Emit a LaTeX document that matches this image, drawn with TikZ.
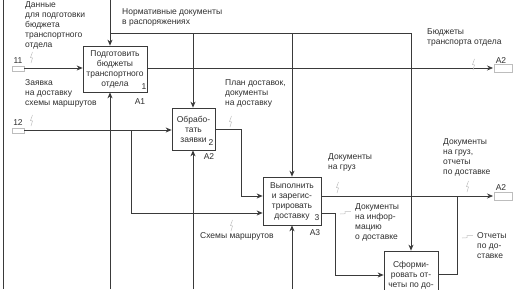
\documentclass[tikz,border=0pt]{standalone}
\usepackage{fontspec}
\setmainfont{Liberation Sans}
\definecolor{LineGray}{HTML}{3A3A3A}
\definecolor{TextGray}{HTML}{2E2E2E}
\definecolor{SquigGray}{HTML}{BDBDBD}
\usetikzlibrary{arrows.meta, positioning}
\tikzset{
  activity/.style={
    rectangle, draw=LineGray, line width=0.7pt, fill=white,
    align=center, inner sep=1pt, text=TextGray,
    font=\fontsize{8.5}{10}\selectfont
  },
  label text/.style={anchor=north west, align=left, inner sep=0pt, text=TextGray,
    font=\fontsize{8.5}{10}\selectfont},
  tag/.style={inner sep=0pt, text=TextGray, font=\fontsize{8.5}{10}\selectfont},
  arrow/.style={-{Stealth[length=6pt, width=5pt]}, line width=0.7pt, draw=LineGray},
  link/.style={line width=0.7pt, draw=LineGray},
  squiggle/.style={line width=0.5pt, draw=SquigGray},
  tunnel/.style={draw=SquigGray, line width=0.5pt},
  squig/.pic={\draw[squiggle] (0,0) -- (1.5,-5) -- (-0.5,-5.5) -- (1.5,-11);},
}

\begin{document}
\begin{tikzpicture}[x=1pt, y=-1pt]
  \clip (0,0) rectangle (516,289);

  % activities
  \node[activity, minimum width=64pt, minimum height=46pt] (A1) at (115,69)
    {Подготовить\\бюджеты\\транспортного\\отдела};
  \node[activity, minimum width=43pt, minimum height=42pt] (A2) at (193.5,129)
    {Обрабо-\\тать\\заявки};
  \node[activity, minimum width=58pt, minimum height=48pt] (A3) at (292,201)
    {Выполнить\\и зарегис-\\трировать\\доставку};
  \node[activity, minimum width=54pt, minimum height=56pt, text depth=0pt] (A4) at (411,279)
    {Сформи-\\ровать от-\\четы по до-\\ставкам};

  \node[tag] (n1) at (144,87) {1};
  \node[tag] (n2) at (211,143) {2};
  \node[tag] (n3) at (317,218) {3};
  \node[tag] (a1) at (140,102) {A1};
  \node[tag] (a2) at (209,157) {A2};
  \node[tag] (a3) at (315,233) {A3};

  % frame edge
  \draw[link] (3,0) -- (3,289);

  % free ends
  \coordinate (i11) at (24,68);
  \coordinate (i12) at (24,130);
  \coordinate (ctop) at (110,0);
  \coordinate (cbus) at (110,33);
  \coordinate (o1) at (493,68);
  \coordinate (o3) at (493,196);
  \coordinate (m1) at (110,289);
  \coordinate (m2) at (193,289);
  \coordinate (m3) at (292,289);

  % tunnels
  \draw[tunnel] (12,66) rectangle (24,71);
  \draw[tunnel] (12,128) rectangle (24,133);
  \draw[tunnel] (494,64) rectangle (512,72);
  \draw[tunnel] (494,192) rectangle (512,200);

  % inputs
  \draw[arrow] (i11) -- (i11 -| A1.west);
  \draw[arrow] (i12) -- (i12 -| A2.west);
  \draw[arrow] (131,130) -- (131,213) -- (A3.west |- 0,213);
  \draw[arrow] (A2.east |- 0,129) -- (241,129) -- (241,196) -- (A3.west |- 0,196);
  \draw[arrow] (A3.east |- 0,213) -- (335,213) -- (335,275) -- (A4.west |- 0,275);

  % controls
  \draw[arrow] (ctop) -- (ctop |- A1.north);
  \draw[arrow] (cbus) -- (411,33) -- (411,0 |- A4.north);
  \draw[arrow] (193,33) -- (193,0 |- A2.north);
  \draw[arrow] (292,33) -- (292,0 |- A3.north);

  % outputs
  \draw[arrow] (A1.east |- o1) -- (o1);
  \draw[arrow] (A3.east |- o3) -- (o3);
  \draw[link] (A4.east |- 0,274) -- (457,274) -- (457,196);

  % mechanisms
  \draw[arrow] (m1) -- (m1 |- A1.south);
  \draw[arrow] (m2) -- (m2 |- A2.south);
  \draw[arrow] (m3) -- (m3 |- A3.south);

  % labels
  \node[label text] (l11) at (25,1) {Данные\\для подготовки\\бюджета\\транспортного\\отдела};
  \node[tag] (t11) at (18,61) {11};
  \node[label text] (lnorm) at (122,8) {Нормативные документы\\в распоряжениях};
  \node[label text] (l12) at (25,79) {Заявка\\на доставку\\схемы маршрутов};
  \node[tag] (t12) at (18,123) {12};
  \node[label text] (lplan) at (225,79) {План доставок,\\документы\\на доставку};
  \node[label text] (lbudg) at (427,28) {Бюджеты\\транспорта отдела};
  \node[tag] (to1) at (501,61) {A2};
  \node[label text] (lgruz) at (328,153) {Документы\\на груз};
  \node[label text] (lrep) at (443,138) {Документы\\на груз,\\отчеты\\по доставке};
  \node[tag] (to3) at (501,188) {A2};
  \node[label text] (linfo) at (355,203) {Документы\\на инфор-\\мацию\\о доставке};
  \node[label text] (lschem) at (200,232) {Схемы маршрутов};
  \node[label text] (lrep2) at (477,232) {Отчеты\\по до-\\ставке};

  % squiggles
  \pic at (31,63) {squig};
  \pic at (31,126) {squig};
  \pic at (230,127) {squig};
  \pic at (473,70) {squig};
  \pic at (337,193) {squig};
  \pic at (467,192) {squig};
  \pic at (231,231) {squig};
  \pic[rotate=-70] at (340,214) {squig};
  \pic[rotate=-70] at (462,238) {squig};
\end{tikzpicture}
\end{document}
